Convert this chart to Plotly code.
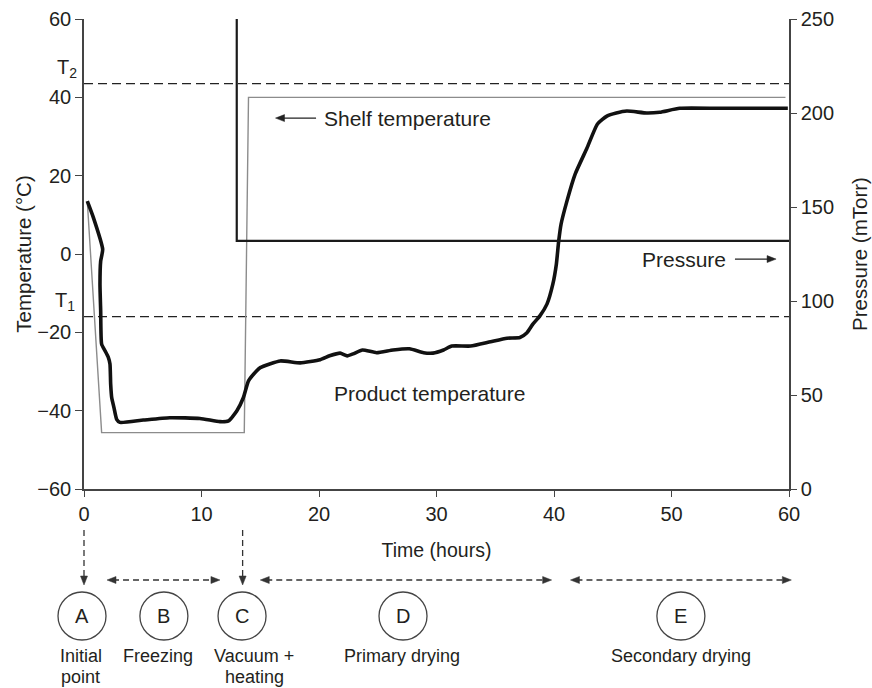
import plotly.graph_objects as go

# ---- data -------------------------------------------------------------
# Product temperature (°C) vs time (h)
product_time = [0.28, 0.8, 1.59, 1.42, 1.36, 1.42, 1.5, 1.79, 2.07, 2.21, 2.27,
                2.36, 2.55, 2.78, 3.06, 5.05, 7.3, 9.87, 11.57, 12.3, 13.0,
                13.56, 14.0, 14.7, 15.0, 16.7, 18.4, 20.1, 20.9, 21.8, 22.4,
                22.9, 23.7, 24.9, 26.3, 27.7, 28.9, 29.7, 30.6, 31.3, 32.9,
                34.6, 36.0, 37.1, 37.7, 38.2, 38.8, 39.4, 39.9, 40.2, 40.4,
                40.6, 41.1, 41.8, 42.8, 43.7, 44.5, 45.3, 46.2, 47.9, 49.0,
                50.7, 54.1, 59.9]
product_temp = [13.5, 9.3, 1.2, -1.8, -7.7, -14.5, -23.0, -24.7, -26.4, -28.1,
                -33.2, -36.7, -39.2, -42.2, -43.0, -42.4, -41.8, -42.0, -42.8,
                -42.6, -40.1, -36.7, -32.4, -29.8, -29.0, -27.3, -27.8, -27.0,
                -26.0, -25.3, -26.0, -25.5, -24.5, -25.2, -24.5, -24.2, -25.2,
                -25.3, -24.5, -23.5, -23.5, -22.4, -21.5, -21.3, -20.1, -17.9,
                -15.8, -12.8, -7.7, -2.6, 3.3, 7.6, 13.5, 20.4, 27.0, 33.2,
                35.2, 36.0, 36.5, 36.0, 36.2, 37.2, 37.2, 37.2]

# Shelf temperature (°C)
shelf_time = [0.28, 1.5, 13.64, 14.0, 59.7]
shelf_temp = [13.5, -45.6, -45.6, 40.0, 40.0]

# Chamber pressure (mTorr)
pressure_time = [13.0, 13.0, 60.0]
pressure_val = [250.0, 132.0, 132.0]

# Critical temperatures (°C)
t1_value = -16.0
t2_value = 43.5

# Process stages below the time axis (positions in hours)
stage_letters = ["A", "B", "C", "D", "E"]
stage_centers = [-0.17, 6.8, 13.45, 27.15, 50.8]
stage_labels = [["Initial", "point"], ["Freezing"], ["Vacuum +", "heating"],
                ["Primary drying"], ["Secondary drying"]]
stage_label_x = [-0.26, 6.3, 14.5, 27.1, 50.8]
span_starts = [1.96, 15.0, 41.4]
span_ends = [11.57, 39.8, 60.2]
marker_times = [0.0, 13.5]

X_MAX = 60.0

# ---- styling ----------------------------------------------------------
FONT = "Liberation Sans, Arial, Helvetica, sans-serif"
TXT = "#231f20"
AX = "#444444"
FS = 21

fig = go.Figure()

dash_style = dict(color="#222", width=1.3, dash="9px,5px")
fig.add_trace(go.Scatter(x=[0, X_MAX], y=[t2_value, t2_value], mode="lines",
                         line=dash_style, hoverinfo="skip", showlegend=False))
fig.add_trace(go.Scatter(x=[0, X_MAX], y=[t1_value, t1_value], mode="lines",
                         line=dash_style, hoverinfo="skip", showlegend=False))
fig.add_trace(go.Scatter(x=shelf_time, y=shelf_temp, mode="lines",
                         line=dict(color="#8c8c8c", width=1.4),
                         name="Shelf temperature", showlegend=False))
fig.add_trace(go.Scatter(x=pressure_time, y=pressure_val, mode="lines",
                         yaxis="y2", line=dict(color="#1a1a1a", width=2.2),
                         name="Pressure", showlegend=False))
fig.add_trace(go.Scatter(x=product_time, y=product_temp, mode="lines",
                         line=dict(color="#111111", width=3.6, shape="spline",
                                   smoothing=0.5),
                         name="Product temperature", showlegend=False))

annotations = []
shapes = []

HEAD_PATHS = {
    "right": "M 0,0 L -9,3.5 L -9,-3.5 Z",
    "left": "M 0,0 L 9,3.5 L 9,-3.5 Z",
    "down": "M 0,0 L -3.5,9 L 3.5,9 Z",
}


def arrow_head(x, y, direction, xref="paper", yref="paper", color="#333"):
    """small filled triangle with its tip at (x, y)"""
    return dict(type="path", xref=xref, yref=yref,
                xsizemode="pixel", ysizemode="pixel", xanchor=x, yanchor=y,
                path=HEAD_PATHS[direction], fillcolor=color,
                line=dict(color=color, width=0.5))


# Curve labels with their pointer arrows
annotations.append(dict(x=20.25, y=34.7, xref="x", yref="y", text="Shelf temperature",
                        showarrow=False, xanchor="left", yanchor="middle"))
shapes.append(dict(type="line", xref="x", yref="y", x0=16.9, x1=19.75,
                   y0=34.7, y1=34.7, line=dict(color="#222", width=1.3)))
shapes.append(arrow_head(16.3, 34.7, "left", "x", "y", "#222"))

annotations.append(dict(x=54.8, y=-1.3, xref="x", yref="y", text="Pressure",
                        showarrow=False, xanchor="right", yanchor="middle"))
shapes.append(dict(type="line", xref="x", yref="y", x0=55.4, x1=58.3,
                   y0=-1.3, y1=-1.3, line=dict(color="#222", width=1.3)))
shapes.append(arrow_head(58.9, -1.3, "right", "x", "y", "#222"))

annotations.append(dict(x=29.4, y=-35.5, xref="x", yref="y", text="Product temperature",
                        showarrow=False, xanchor="center", yanchor="middle"))


def px_(t):
    """paper x for a time in hours"""
    return t / X_MAX


PLOT_H = 470.0


def py(pixel_below_axis):
    """paper y for a position given in pixels below the x axis line"""
    return -pixel_below_axis / PLOT_H


def ty(temp):
    """paper y for a temperature on the left axis"""
    return (temp + 60.0) / 120.0


# T1 / T2 labels, just left of the temperature axis
annotations.append(dict(x=px_(-0.45), y=ty(t2_value) + 1.0 / PLOT_H, xref="paper",
                        yref="paper", text="T<sub>2</sub>", showarrow=False,
                        xanchor="right", yanchor="bottom", font=dict(size=20)))
annotations.append(dict(x=px_(-0.6), y=ty(t1_value) + 1.0 / PLOT_H, xref="paper",
                        yref="paper", text="T<sub>1</sub>", showarrow=False,
                        xanchor="right", yanchor="bottom", font=dict(size=20)))

arrow_y = py(91)
# horizontal double-headed dashed spans
for s, e in zip(span_starts, span_ends):
    shapes.append(dict(type="line", xref="paper", yref="paper",
                       x0=px_(s) + 6 / 705.0, x1=px_(e) - 6 / 705.0,
                       y0=arrow_y, y1=arrow_y,
                       line=dict(color="#333", width=1.3, dash="6px,4px")))
    shapes.append(arrow_head(px_(s), arrow_y, "left"))
    shapes.append(arrow_head(px_(e), arrow_y, "right"))

# vertical dashed markers
for t in marker_times:
    shapes.append(dict(type="line", xref="paper", yref="paper", x0=px_(t), x1=px_(t),
                       y0=py(41), y1=py(90),
                       line=dict(color="#333", width=1.3, dash="6px,4px")))
    shapes.append(arrow_head(px_(t), py(96), "down"))

# stage circles and captions
circle_y = py(127)
caption_rows = [py(167), py(188)]
for letter, cx, lab, lx in zip(stage_letters, stage_centers, stage_labels, stage_label_x):
    shapes.append(dict(type="circle", xref="paper", yref="paper",
                       xsizemode="pixel", ysizemode="pixel",
                       xanchor=px_(cx), yanchor=circle_y,
                       x0=-24, x1=24, y0=-24, y1=24,
                       line=dict(color="#444", width=1.3)))
    annotations.append(dict(x=px_(cx), y=circle_y, xref="paper", yref="paper",
                            text=letter, showarrow=False, xanchor="center",
                            yanchor="middle", font=dict(size=20)))
    for row, line_text in zip(caption_rows, lab):
        annotations.append(dict(x=px_(lx), y=row, xref="paper", yref="paper",
                                text=line_text, showarrow=False, xanchor="center",
                                yanchor="middle", borderpad=0, font=dict(size=18)))

fig.update_layout(
    width=872, height=688,
    margin=dict(l=84, r=83, t=19, b=199),
    paper_bgcolor="white", plot_bgcolor="white",
    font=dict(family=FONT, size=FS, color=TXT),
    showlegend=False,
    shapes=shapes,
    annotations=annotations,
    xaxis=dict(range=[0, X_MAX], tickvals=[0, 10, 20, 30, 40, 50, 60],
               showline=True, linecolor=AX, linewidth=1.5, mirror=False,
               ticks="outside", ticklen=6, tickwidth=1.3, tickcolor=AX,
               showgrid=False, zeroline=False, automargin=False,
               tickfont=dict(size=20),
               title=dict(text="Time (hours)", standoff=20, font=dict(size=19.5))),
    yaxis=dict(range=[-60, 60], tickvals=[-60, -40, -20, 0, 20, 40, 60],
               showline=True, linecolor=AX, linewidth=1.5,
               ticks="outside", ticklen=7, tickwidth=1.3, tickcolor=AX,
               showgrid=False, zeroline=False, automargin=False,
               tickfont=dict(size=20),
               title=dict(text="Temperature (°C)", standoff=0, font=dict(size=20.5))),
    yaxis2=dict(range=[0, 250], tickvals=[0, 50, 100, 150, 200, 250],
                overlaying="y", side="right",
                showline=True, linecolor=AX, linewidth=1.5,
                ticks="outside", ticklen=6, tickwidth=1.3, tickcolor=AX,
                showgrid=False, zeroline=False, automargin=False,
                tickfont=dict(size=20),
                title=dict(text="Pressure (mTorr)", standoff=20, font=dict(size=20.5))),
)

fig.write_html("out.html")
